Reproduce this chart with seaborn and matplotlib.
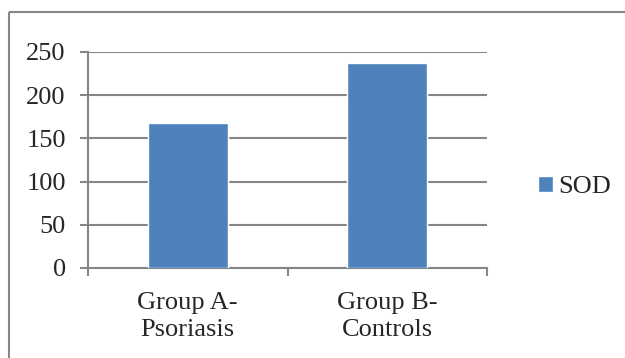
import pandas as pd
import matplotlib.pyplot as plt
import seaborn as sns
from matplotlib.lines import Line2D

sns.set_theme(style="white")
plt.rcParams['font.family'] = ['Liberation Serif', 'DejaVu Serif']

groups = ["Group A-\nPsoriasis", "Group B-\nControls"]
sod = [168, 237]
series_name = "SOD"

bar_color = "#4F81BD"
grid_color = "#868686"
fs = 19

df = pd.DataFrame({"group": groups, "value": sod, "series": series_name})

fig = plt.figure(figsize=(6.25, 3.58), dpi=100)
ax = fig.add_axes([88/625, 1 - 268/358, (487 - 88)/625, (268 - 52)/358])

sns.barplot(data=df, x="group", y="value", hue="series", palette=[bar_color],
            width=0.4, saturation=1, ax=ax, legend=True, zorder=3)

ax.set_xlim(-0.5, 1.5)
ax.set_ylim(0, 250)
ax.set_yticks([0, 50, 100, 150, 200, 250])
ax.yaxis.grid(True, color=grid_color, linewidth=1.5, zorder=0)
ax.set_axisbelow(True)
ax.set_xlabel("")
ax.set_ylabel("")

for s in ["top", "right"]:
    ax.spines[s].set_visible(False)
for s in ["left", "bottom"]:
    ax.spines[s].set_color(grid_color)
    ax.spines[s].set_linewidth(1.5)

ax.tick_params(axis="y", which="major", direction="out", length=6, width=1.5,
               color=grid_color, labelsize=fs, pad=10, left=True)
ax.tick_params(axis="x", which="major", length=0, labelsize=fs, pad=17)
ax.set_xticks([-0.5, 0.5, 1.5], minor=True)
ax.tick_params(axis="x", which="minor", direction="out", length=6, width=1.5,
               color=grid_color, bottom=True)
for lbl in ax.get_xticklabels():
    lbl.set_horizontalalignment("center")
    lbl.set_linespacing(1.3)

handles, labels = ax.get_legend_handles_labels()
ax.legend(handles, labels, loc="center left", bbox_to_anchor=(525/625, 1 - 187/358),
          bbox_transform=fig.transFigure, frameon=False,
          prop={"family": "Liberation Serif", "size": fs},
          handlelength=0.55, handleheight=0.55, handletextpad=0.2, borderpad=0)

# outer chart frame (cropped on right and bottom)
top_y = 1 - 11.5/358
left_x = 8.5/625
fig.add_artist(Line2D([left_x, 1.0], [top_y, top_y], transform=fig.transFigure,
                      color=grid_color, linewidth=1.5, solid_capstyle="butt"))
fig.add_artist(Line2D([left_x, left_x], [0.0, top_y], transform=fig.transFigure,
                      color=grid_color, linewidth=1.5, solid_capstyle="butt"))

fig.savefig("out.png", dpi=100)
